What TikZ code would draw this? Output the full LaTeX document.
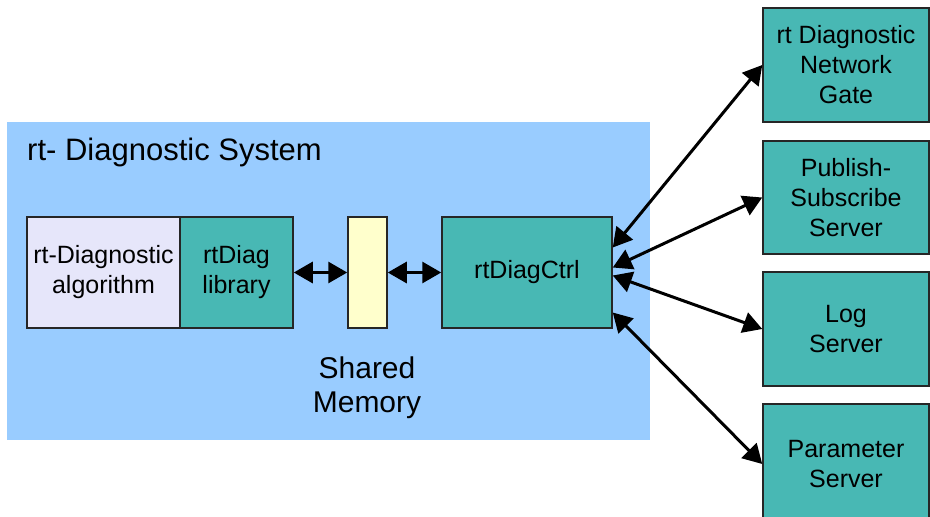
\documentclass[tikz,border=0pt]{standalone}
\usepackage{fontspec}
\setmainfont{Liberation Sans}
\usetikzlibrary{arrows.meta}
\definecolor{sysblue}{RGB}{153,204,255}
\definecolor{diagteal}{RGB}{72,184,180}
\definecolor{algolav}{RGB}{230,230,250}
\definecolor{shmyellow}{RGB}{255,255,204}
\begin{document}
\begin{tikzpicture}[x=1pt,y=-1pt,
  box/.style={draw=black!85, line width=1.5pt, fill=diagteal, align=center, inner sep=0pt, font=\fontsize{25}{30}\selectfont},
  link/.style={line width=3pt, {Triangle[length=19pt,width=21pt]}-{Triangle[length=19pt,width=21pt]}},
  bigtext/.style={inner sep=0pt, align=center, font=\fontsize{30}{34}\selectfont}]
\useasboundingbox (0,0) rectangle (930,517);
\node[fill=sysblue, minimum width=643pt, minimum height=318pt, inner sep=0pt] (sys) at (328.5,281){};
\node[bigtext, anchor=base west, font=\fontsize{31}{34}\selectfont] (systitle) at (27,160){rt- Diagnostic System};
\node[box, fill=algolav, minimum width=153pt, minimum height=111pt] (algo) at (103.5,272.5){rt-Diagnostic\\algorithm};
\node[box, minimum width=113pt, minimum height=111pt] (lib) at (236.5,272.5){rtDiag\\library};
\node[box, fill=shmyellow, minimum width=39pt, minimum height=111pt] (shm) at (367.5,272.5){};
\node[box, minimum width=170pt, minimum height=111pt] (ctrl) at (527,272.5){rtDiagCtrl};
\node[bigtext] (shmlabel) at (367,388){Shared\\Memory};
\node[box, minimum width=166pt, minimum height=114pt] (gate) at (846,65){rt Diagnostic\\Network\\Gate};
\node[box, minimum width=166pt, minimum height=113pt] (pubsub) at (846,197.5){Publish-\\Subscribe\\Server};
\node[box, minimum width=166pt, minimum height=114pt] (logsrv) at (846,329){Log\\Server};
\node[box, minimum width=166pt, minimum height=120pt] (param) at (846,464){Parameter\\Server};
\draw[link] (lib.east) -- (shm.west);
\draw[link] (shm.east) -- (ctrl.west);
\draw[link] ([yshift=25pt]ctrl.east) -- (gate.west);
\draw[link] ([yshift=5pt]ctrl.east) -- (pubsub.west);
\draw[link] ([yshift=-3pt]ctrl.east) -- (logsrv.west);
\draw[link] ([yshift=-40pt]ctrl.east) -- (param.west);
\end{tikzpicture}
\end{document}
